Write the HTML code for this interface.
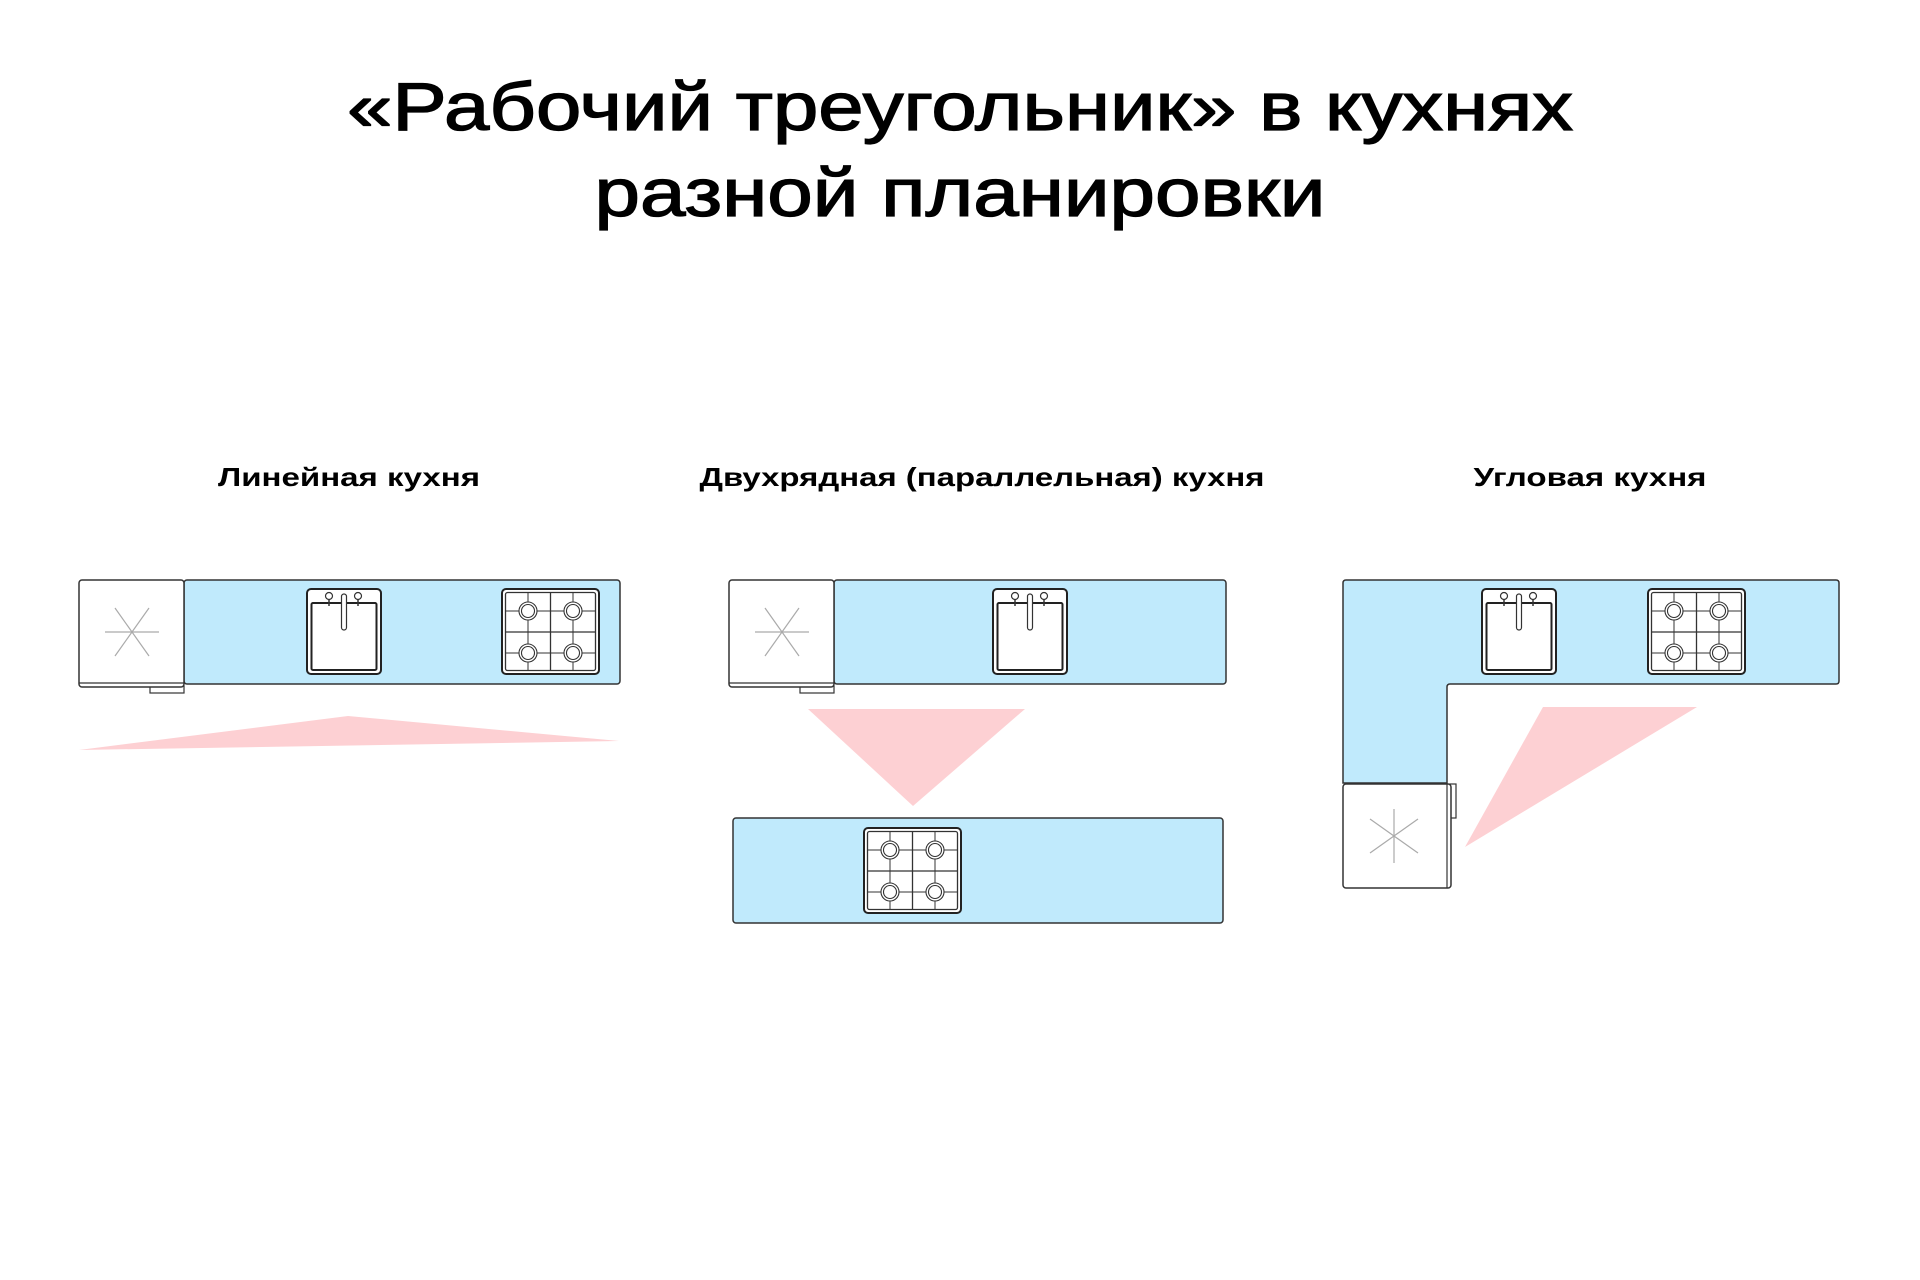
<!DOCTYPE html>
<html><head><meta charset="utf-8"><style>
html,body{margin:0;padding:0;background:#fff;}
svg{display:block;}
text{font-family:"Liberation Sans",sans-serif;fill:#000;}
</style></head><body>
<svg width="1920" height="1280" viewBox="0 0 1920 1280" xmlns="http://www.w3.org/2000/svg">
<defs>
<g id="sink">
<rect x="0" y="0" width="74" height="85" rx="4" fill="#fff" stroke="#222" stroke-width="2"/>
<rect x="4.5" y="14" width="65" height="67" rx="1.5" fill="#fff" stroke="#222" stroke-width="2"/>
<line x1="22" y1="9" x2="22" y2="17" stroke="#333" stroke-width="1.5"/>
<line x1="51" y1="9" x2="51" y2="17" stroke="#333" stroke-width="1.5"/>
<circle cx="22" cy="7" r="3.5" fill="#fff" stroke="#333" stroke-width="1.2"/>
<circle cx="51" cy="7" r="3.5" fill="#fff" stroke="#333" stroke-width="1.2"/>
<rect x="34.5" y="5" width="5" height="36" rx="2.5" fill="#fff" stroke="#333" stroke-width="1.2"/>
</g>
<g id="stove">
<rect x="0" y="0" width="97" height="85" rx="4" fill="#fff" stroke="#222" stroke-width="2"/>
<rect x="3.5" y="3.5" width="90" height="78" rx="2" fill="#fff" stroke="#333" stroke-width="1.3"/>
<line x1="48.5" y1="3.5" x2="48.5" y2="81.5" stroke="#333" stroke-width="1.3"/>
<line x1="3.5" y1="43" x2="93.5" y2="43" stroke="#333" stroke-width="1.3"/>
<line x1="26" y1="3.5" x2="26" y2="81.5" stroke="#333" stroke-width="1"/>
<line x1="71" y1="3.5" x2="71" y2="81.5" stroke="#333" stroke-width="1"/>
<line x1="3.5" y1="22" x2="93.5" y2="22" stroke="#333" stroke-width="1"/>
<line x1="3.5" y1="64" x2="93.5" y2="64" stroke="#333" stroke-width="1"/>
<g fill="#fff" stroke="#333" stroke-width="1.1">
<circle cx="26" cy="22" r="9"/><circle cx="26" cy="22" r="6.5"/>
<circle cx="71" cy="22" r="9"/><circle cx="71" cy="22" r="6.5"/>
<circle cx="26" cy="64" r="9"/><circle cx="26" cy="64" r="6.5"/>
<circle cx="71" cy="64" r="9"/><circle cx="71" cy="64" r="6.5"/>
</g>
</g>
<g id="star" stroke="#aaa" stroke-width="1.2">
<line x1="-27" y1="0" x2="27" y2="0"/>
<line x1="-17" y1="-24" x2="17" y2="24"/>
<line x1="17" y1="-24" x2="-17" y2="24"/>
</g>
</defs>

<g stroke="#000" stroke-width="1.3">
<text x="960" y="130" font-size="68" text-anchor="middle" textLength="1226" lengthAdjust="spacingAndGlyphs">«Рабочий треугольник» в кухнях</text>
<text x="960" y="216" font-size="68" text-anchor="middle" textLength="731" lengthAdjust="spacingAndGlyphs">разной планировки</text>
</g>

<text x="349" y="486" font-size="26" font-weight="bold" text-anchor="middle" textLength="262" lengthAdjust="spacingAndGlyphs">Линейная кухня</text>
<text x="982" y="486" font-size="26" font-weight="bold" text-anchor="middle" textLength="565" lengthAdjust="spacingAndGlyphs">Двухрядная (параллельная) кухня</text>
<text x="1590" y="486" font-size="26" font-weight="bold" text-anchor="middle" textLength="233" lengthAdjust="spacingAndGlyphs">Угловая кухня</text>

<!-- Linear -->
<rect x="184" y="580" width="436" height="104" rx="3" fill="#c0eafc" stroke="#333" stroke-width="1.5"/>
<rect x="150" y="686" width="34" height="7" fill="#fff" stroke="#333" stroke-width="1.2"/>
<rect x="79" y="580" width="105" height="107" rx="3" fill="#fff" stroke="#333" stroke-width="1.5"/>
<line x1="79" y1="683" x2="184" y2="683" stroke="#333" stroke-width="1.2"/>
<use href="#star" transform="translate(132,632)"/>
<use href="#sink" transform="translate(307,589)"/>
<use href="#stove" transform="translate(502,589)"/>
<polygon points="79,750 348,716 619,741" fill="#fdd0d3"/>

<!-- Parallel -->
<rect x="834" y="580" width="392" height="104" rx="3" fill="#c0eafc" stroke="#333" stroke-width="1.5"/>
<rect x="800" y="686" width="34" height="7" fill="#fff" stroke="#333" stroke-width="1.2"/>
<rect x="729" y="580" width="105" height="107" rx="3" fill="#fff" stroke="#333" stroke-width="1.5"/>
<line x1="729" y1="683" x2="834" y2="683" stroke="#333" stroke-width="1.2"/>
<use href="#star" transform="translate(782,632)"/>
<use href="#sink" transform="translate(993,589)"/>
<polygon points="808,709 1025,709 913,806" fill="#fdd0d3"/>
<rect x="733" y="818" width="490" height="105" rx="3" fill="#c0eafc" stroke="#333" stroke-width="1.5"/>
<use href="#stove" transform="translate(864,828)"/>

<!-- Corner -->
<path d="M1346,580 H1836 Q1839,580 1839,583 V681 Q1839,684 1836,684 H1450 Q1447,684 1447,687 V783 H1343 V583 Q1343,580 1346,580 Z" fill="#c0eafc" stroke="#333" stroke-width="1.5"/>
<rect x="1450" y="784" width="6" height="34" fill="#fff" stroke="#333" stroke-width="1.2"/>
<rect x="1343" y="784" width="108" height="104" rx="3" fill="#fff" stroke="#333" stroke-width="1.5"/>
<line x1="1447" y1="784" x2="1447" y2="888" stroke="#333" stroke-width="1.2"/>
<use href="#star" transform="translate(1394,836) rotate(90)"/>
<use href="#sink" transform="translate(1482,589)"/>
<use href="#stove" transform="translate(1648,589)"/>
<polygon points="1543,707 1697,707 1465,847" fill="#fdd0d3"/>
</svg>
</body></html>
